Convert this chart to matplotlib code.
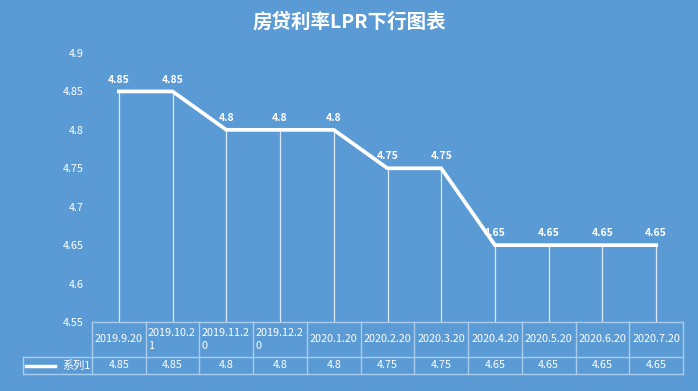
import matplotlib.pyplot as plt

plt.rcParams['font.family'] = ['Noto Sans CJK SC', 'DejaVu Sans']

dates = ['2019.9.20', '2019.10.21', '2019.11.20', '2019.12.20', '2020.1.20', '2020.2.20',
         '2020.3.20', '2020.4.20', '2020.5.20', '2020.6.20', '2020.7.20']
rates = [4.85, 4.85, 4.8, 4.8, 4.8, 4.75, 4.75, 4.65, 4.65, 4.65, 4.65]
yticks = [4.55, 4.6, 4.65, 4.7, 4.75, 4.8, 4.85, 4.9]
series_name = '系列1'
title = '房贷利率LPR下行图表'

bg = '#5B9BD5'
edge = '#A9CBEC'

fig = plt.figure(figsize=(6.98, 3.91), dpi=100, facecolor=bg)
ax = fig.add_axes([92/698, 1-322/391, 591/698, 269/391])
ax.set_facecolor(bg)

x = list(range(len(rates)))
ax.vlines(x, 4.55, rates, color='#DCE9F6', lw=0.9)
ax.plot(x, rates, color='white', lw=2.7, solid_joinstyle='miter')
for xi, v in zip(x, rates):
    ax.text(xi, v + 0.009, f'{v:g}', color='white', fontsize=7.5, fontweight='bold',
            ha='center', va='bottom')

ax.set_xlim(-0.5, len(rates) - 0.5)
ax.set_ylim(4.55, 4.9)
ax.set_yticks(yticks)
ax.set_yticklabels([f'{t:g}' for t in yticks])
ax.tick_params(axis='y', colors='white', labelsize=7.8, length=0, pad=6)
ax.set_xticks([])
for s in ax.spines.values():
    s.set_visible(False)

# data table under the plot
tr = ax.get_xaxis_transform()
h1 = 35/269
h2 = 17/269
lx = -0.5 - 69/591*11
kw = dict(color=edge, lw=1, transform=tr, clip_on=False)
ax.plot([-0.5, 10.5], [0, 0], **kw)
ax.plot([lx, 10.5], [-h1, -h1], **kw)
ax.plot([lx, 10.5], [-h1-h2, -h1-h2], **kw)
ax.plot([lx, lx], [-h1, -h1-h2], **kw)
for i in range(len(dates) + 1):
    ax.plot([i - 0.5, i - 0.5], [0, -h1-h2], **kw)

def wrap(s, n=9):
    return s if len(s) <= n else s[:n] + '\n' + s[n:]

for i, (d, v) in enumerate(zip(dates, rates)):
    lab = wrap(d)
    ax.text(i if '\n' not in lab else i - 0.46, -h1/2, lab, transform=tr, color='white',
            fontsize=7.8, ha='center' if '\n' not in lab else 'left', va='center',
            linespacing=1.45)
    ax.text(i, -h1 - h2/2, f'{v:g}', transform=tr, color='white', fontsize=7.8,
            ha='center', va='center')

ax.plot([lx + 0.05, lx + 0.6], [-h1-h2/2, -h1-h2/2], color='white', lw=2.5,
        transform=tr, clip_on=False)
ax.text(-0.52, -h1-h2/2, series_name, transform=tr, color='white', fontsize=8,
        ha='right', va='center')

fig.text(0.5, 1 - 22/391, title, color='white', fontsize=14, fontweight='bold',
         ha='center', va='center')

fig.savefig('out.png', dpi=100, facecolor=bg)
